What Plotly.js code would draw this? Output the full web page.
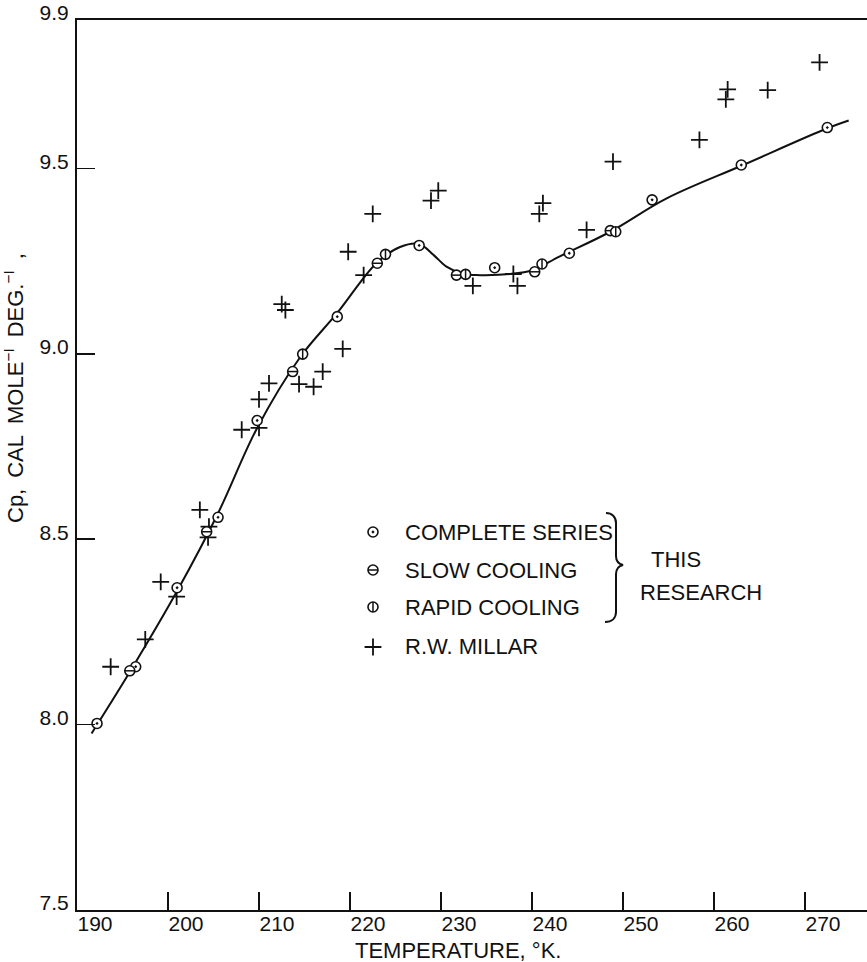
<!DOCTYPE html>
<html>
<head>
<meta charset="utf-8">
<script src="https://cdn.plot.ly/plotly-3.0.1.min.js"></script>
<style>
  html, body { margin: 0; padding: 0; background: #fff; }
  #chart { width: 867px; height: 962px; }
</style>
</head>
<body>
<div id="chart"></div>
<script>
// ---------------- data ----------------
const completeT  = [192.2, 196.45, 201.0, 205.5, 209.8, 218.6, 227.6, 235.9, 244.1, 253.2, 263.0, 272.45];
const completeCp = [8.003, 8.156, 8.369, 8.559, 8.82, 9.10, 9.292, 9.232, 9.271, 9.415, 9.509, 9.61];

const slowT  = [195.8, 204.25, 213.7, 223.0, 231.7, 240.3, 248.6];
const slowCp = [8.145, 8.52, 8.952, 9.244, 9.212, 9.221, 9.332];

const rapidT  = [214.8, 223.9, 232.7, 241.1, 249.2];
const rapidCp = [8.999, 9.268, 9.214, 9.242, 9.329];

const millarT  = [193.7, 197.5, 199.2, 200.95, 203.5, 204.5, 204.4, 208.1, 210.0, 210.0, 211.1, 212.5, 212.9,
                  214.4, 216.0, 217.0, 219.2, 219.8, 221.5, 222.5, 228.9, 229.7, 233.5, 237.95, 238.4, 240.8,
                  241.2, 246.0, 248.9, 258.4, 261.3, 261.5, 265.9, 271.6];
const millarCp = [8.156, 8.23, 8.385, 8.345, 8.579, 8.534, 8.505, 8.795, 8.80, 8.877, 8.92, 9.134, 9.118,
                  8.918, 8.911, 8.952, 9.013, 9.275, 9.212, 9.377, 9.413, 9.44, 9.183, 9.215, 9.183, 9.377,
                  9.406, 9.334, 9.518, 9.577, 9.686, 9.713, 9.711, 9.786];

// smooth curve drawn through the points
const curveT  = [191.6, 196.0, 201.0, 205.5, 209.8, 214.5, 218.6, 222.9, 225.5, 227.6, 229.2, 230.6,
                 232.5, 234.3, 237.6, 240.1, 243.0, 248.6, 254.8, 263.2, 272.45, 274.8];
const curveCp = [7.976, 8.15, 8.36, 8.57, 8.80, 8.99, 9.11, 9.244, 9.288, 9.296, 9.266, 9.235,
                 9.215, 9.212, 9.215, 9.226, 9.262, 9.329, 9.419, 9.509, 9.608, 9.629];

const xTicks = [190, 200, 210, 220, 230, 240, 250, 260, 270];
const xTickText = ['190', '200', '210', '220', '230', '240', '250', '260', '270'];
const yTicks = [7.5, 8.0, 8.5, 9.0, 9.5, 9.9];
const yTickText = ['7.5', '8.0', '8.5', '9.0', '9.5', '9.9'];

const legendLabels = ['COMPLETE SERIES', 'SLOW COOLING', 'RAPID COOLING', 'R.W. MILLAR'];

// ---------------- layout / style ----------------
const FONT = '"Liberation Sans", Arial, sans-serif';
const INK = '#111';
const W = 867, H = 962, ML = 77, MR = 0, MT = 20, MB = 52;
const PW = W - ML - MR, PH = H - MT - MB;
const px = v => (v - ML) / PW;          // page pixel -> paper x
const py = v => (H - MB - v) / PH;      // page pixel -> paper y

const legendKeyX = px(373);
const legendRowsY = [py(532), py(570), py(607), py(647)];
const legendTextX = px(403);

const circDot  = {symbol: 'circle-dot', size: 10, color: '#fff', line: {color: INK, width: 1.6}};
const circOpen = {symbol: 'circle', size: 10, color: '#fff', line: {color: INK, width: 1.6}};
const barH = {symbol: 'line-ew-open', size: 7, color: INK, line: {color: INK, width: 1.5}};
const barV = {symbol: 'line-ns-open', size: 7, color: INK, line: {color: INK, width: 1.5}};
const plus = {symbol: 'cross-thin-open', size: 12, color: INK, line: {color: INK, width: 1.8}};

const traces = [
  {x: curveT, y: curveCp, mode: 'lines', line: {color: INK, width: 2, shape: 'spline', smoothing: 1}},
  {x: millarT, y: millarCp, mode: 'markers', marker: plus},
  {x: completeT, y: completeCp, mode: 'markers', marker: circDot},
  {x: slowT, y: slowCp, mode: 'markers', marker: circOpen},
  {x: slowT, y: slowCp, mode: 'markers', marker: barH},
  {x: rapidT, y: rapidCp, mode: 'markers', marker: circOpen},
  {x: rapidT, y: rapidCp, mode: 'markers', marker: barV},
  // legend keys (on an overlay axis spanning the plot area)
  {x: [legendKeyX], y: [legendRowsY[0]], xaxis: 'x2', yaxis: 'y2', mode: 'markers', marker: circDot},
  {x: [legendKeyX], y: [legendRowsY[1]], xaxis: 'x2', yaxis: 'y2', mode: 'markers', marker: circOpen},
  {x: [legendKeyX], y: [legendRowsY[1]], xaxis: 'x2', yaxis: 'y2', mode: 'markers', marker: barH},
  {x: [legendKeyX], y: [legendRowsY[2]], xaxis: 'x2', yaxis: 'y2', mode: 'markers', marker: circOpen},
  {x: [legendKeyX], y: [legendRowsY[2]], xaxis: 'x2', yaxis: 'y2', mode: 'markers', marker: barV},
  {x: [legendKeyX], y: [legendRowsY[3]], xaxis: 'x2', yaxis: 'y2', mode: 'markers', marker: plus}
];
traces.forEach(t => { t.type = 'scatter'; t.showlegend = false; t.hoverinfo = 'skip'; });

const annFont = {family: FONT, size: 22, color: INK};
const annotations = legendLabels.map((txt, i) => ({
  xref: 'paper', yref: 'paper', x: legendTextX, y: legendRowsY[i], xanchor: 'left', yanchor: 'middle',
  text: txt, showarrow: false, font: annFont
}));
const SP = '\u2002';
annotations.push(
  {xref: 'paper', yref: 'paper', x: px(676), y: py(560), xanchor: 'center', yanchor: 'middle', text: 'THIS', showarrow: false, font: annFont},
  {xref: 'paper', yref: 'paper', x: px(701), y: py(592), xanchor: 'center', yanchor: 'middle', text: 'RESEARCH', showarrow: false, font: annFont},
  {xref: 'paper', yref: 'paper', x: px(458), y: py(950), xanchor: 'center', yanchor: 'middle', text: 'TEMPERATURE, °K.', showarrow: false, font: annFont},
  {xref: 'paper', yref: 'paper', x: px(14), y: py(388), xanchor: 'center', yanchor: 'middle', textangle: -90,
   text: 'Cp,' + SP + 'CAL' + SP + 'MOLE<sup>\u2212I</sup>' + SP + 'DEG.<sup>\u2212I</sup>' + SP + ',',
   showarrow: false, font: {family: FONT, size: 22, color: INK}}
);

const shapes = [{
  type: 'path', xref: 'paper', yref: 'paper', xsizemode: 'pixel', ysizemode: 'pixel',
  xanchor: px(605), yanchor: py(565),
  path: 'M 1,52 C 7,52 11,48 11,42 L 11,9 C 11,3 14,1 18,0 C 14,-1 11,-3 11,-9 L 11,-47 C 11,-53 7,-57 0,-57',
  line: {color: INK, width: 2}
}];

const layout = {
  width: W, height: H,
  margin: {l: ML, r: MR, t: MT, b: MB, pad: 0},
  paper_bgcolor: '#fff', plot_bgcolor: '#fff',
  font: {family: FONT, color: INK, size: 21},
  showlegend: false,
  xaxis: {
    range: [190, 190 + PW / 9.1], tickvals: xTicks, ticktext: xTickText,
    ticks: 'inside', ticklen: 18, tickwidth: 1.5, tickcolor: INK,
    showline: true, linewidth: 2, linecolor: INK, mirror: true,
    showgrid: false, zeroline: false, ticklabelshift: 18, ticklabelstandoff: -6,
    tickfont: {family: FONT, size: 21, color: INK}
  },
  yaxis: {
    range: [7.5, 9.9], tickvals: yTicks, ticktext: yTickText,
    ticks: 'inside', ticklen: 18, tickwidth: 1.5, tickcolor: INK,
    showline: true, linewidth: 2, linecolor: INK, mirror: false,
    showgrid: false, zeroline: false, ticklabelshift: -7, ticklabelstandoff: 2,
    tickfont: {family: FONT, size: 21, color: INK}
  },
  xaxis2: {overlaying: 'x', anchor: 'y2', range: [0, 1], visible: false, fixedrange: true},
  yaxis2: {overlaying: 'y', anchor: 'x2', range: [0, 1], visible: false, fixedrange: true},
  annotations: annotations,
  shapes: shapes
};

Plotly.newPlot('chart', traces, layout, {displayModeBar: false, staticPlot: true});
</script>
</body>
</html>
